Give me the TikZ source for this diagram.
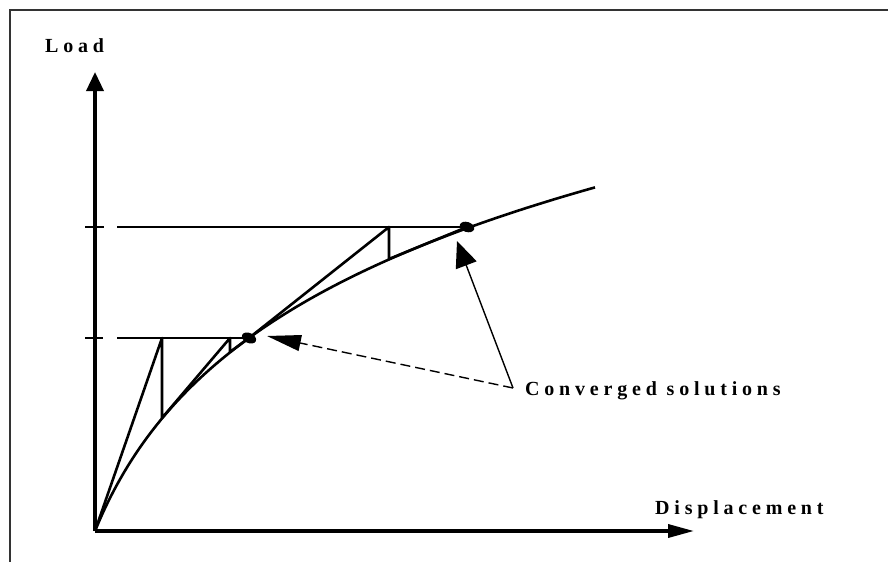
\documentclass[tikz,border=0pt]{standalone}
\usepackage{fontspec}
\setmainfont{Liberation Serif}
\newfontfamily\lblfont{Liberation Serif}[LetterSpace=24,BoldFont={* Bold}]
\usetikzlibrary{arrows.meta,shapes.geometric}
\begin{document}
\begin{tikzpicture}[x=1pt,y=-1pt,
  frame/.style={line width=1.6pt,draw=black!80},
  axis/.style={line width=3.5pt},
  curvestyle/.style={line width=2.6pt,line join=round},
  lbl/.style={font=\lblfont\bfseries\fontsize{20}{20}\selectfont,inner sep=0pt},
  dotmark/.style={ellipse,fill=black,minimum width=15pt,minimum height=10pt,inner sep=0pt},
  pointer/.style={line width=1.4pt}
]
\useasboundingbox (0,0) rectangle (888,562);
% frame
\draw[frame] (888,10) -- (10,10) -- (10,562);
% key points
\coordinate (O) at (95,531);
\coordinate (ytop) at (95,72);
\coordinate (xend) at (694,531);
% axes
\draw[axis,-{Triangle[length=19pt,width=17pt]}] (O) -- (ytop);
\draw[axis,-{Triangle[length=26pt,width=13pt]}] (O) -- (xend);
% labels
\node[lbl,anchor=base west] (load) at (45,52) {Load};
\node[lbl,anchor=base west] (disp) at (655,514) {Displacement};
\node[lbl,anchor=base west] (conv) at (525,395) {Converged solutions};
% load levels
\draw[curvestyle,line width=2.4pt] (85,338) -- (103,338);
\draw[curvestyle,line width=2.4pt] (117,338) -- (249,338);
\draw[curvestyle,line width=2.4pt] (85,227) -- (104,227);
\draw[curvestyle,line width=2.4pt] (117,227) -- (467,227);
% curve
\draw[curvestyle] plot[domain=0:500,samples=120,smooth] ({95+\x},{531-158.9*ln(1+\x/65)});
% iterations step 1
\coordinate (a1) at (162,338);
\coordinate (b1) at (162,418);
\coordinate (a2) at (230,338);
\coordinate (b2) at (230,352);
\coordinate (c1) at (249,338);
\draw[curvestyle] (O) -- (a1) -- (b1) -- (a2) -- (b2) -- (c1);
% iterations step 2
\coordinate (a3) at (389,227);
\coordinate (b3) at (389,259);
\coordinate (c2) at (467,227);
\draw[curvestyle] (c1) -- (a3) -- (b3) -- (c2);
% converged dots
\node[dotmark,rotate=-25] (d1) at (c1) {};
\node[dotmark,rotate=-18] (d2) at (c2) {};
% pointers
\coordinate (cfrom) at (513,388);
\coordinate (t1) at (267,336);
\coordinate (t2) at (457,241);
\draw[pointer,dash pattern=on 10pt off 5pt,-{Triangle[length=34pt,width=16pt]}] (cfrom) -- (t1);
\draw[pointer,-{Triangle[length=26pt,width=22pt]}] (cfrom) -- (t2);
\end{tikzpicture}
\end{document}
